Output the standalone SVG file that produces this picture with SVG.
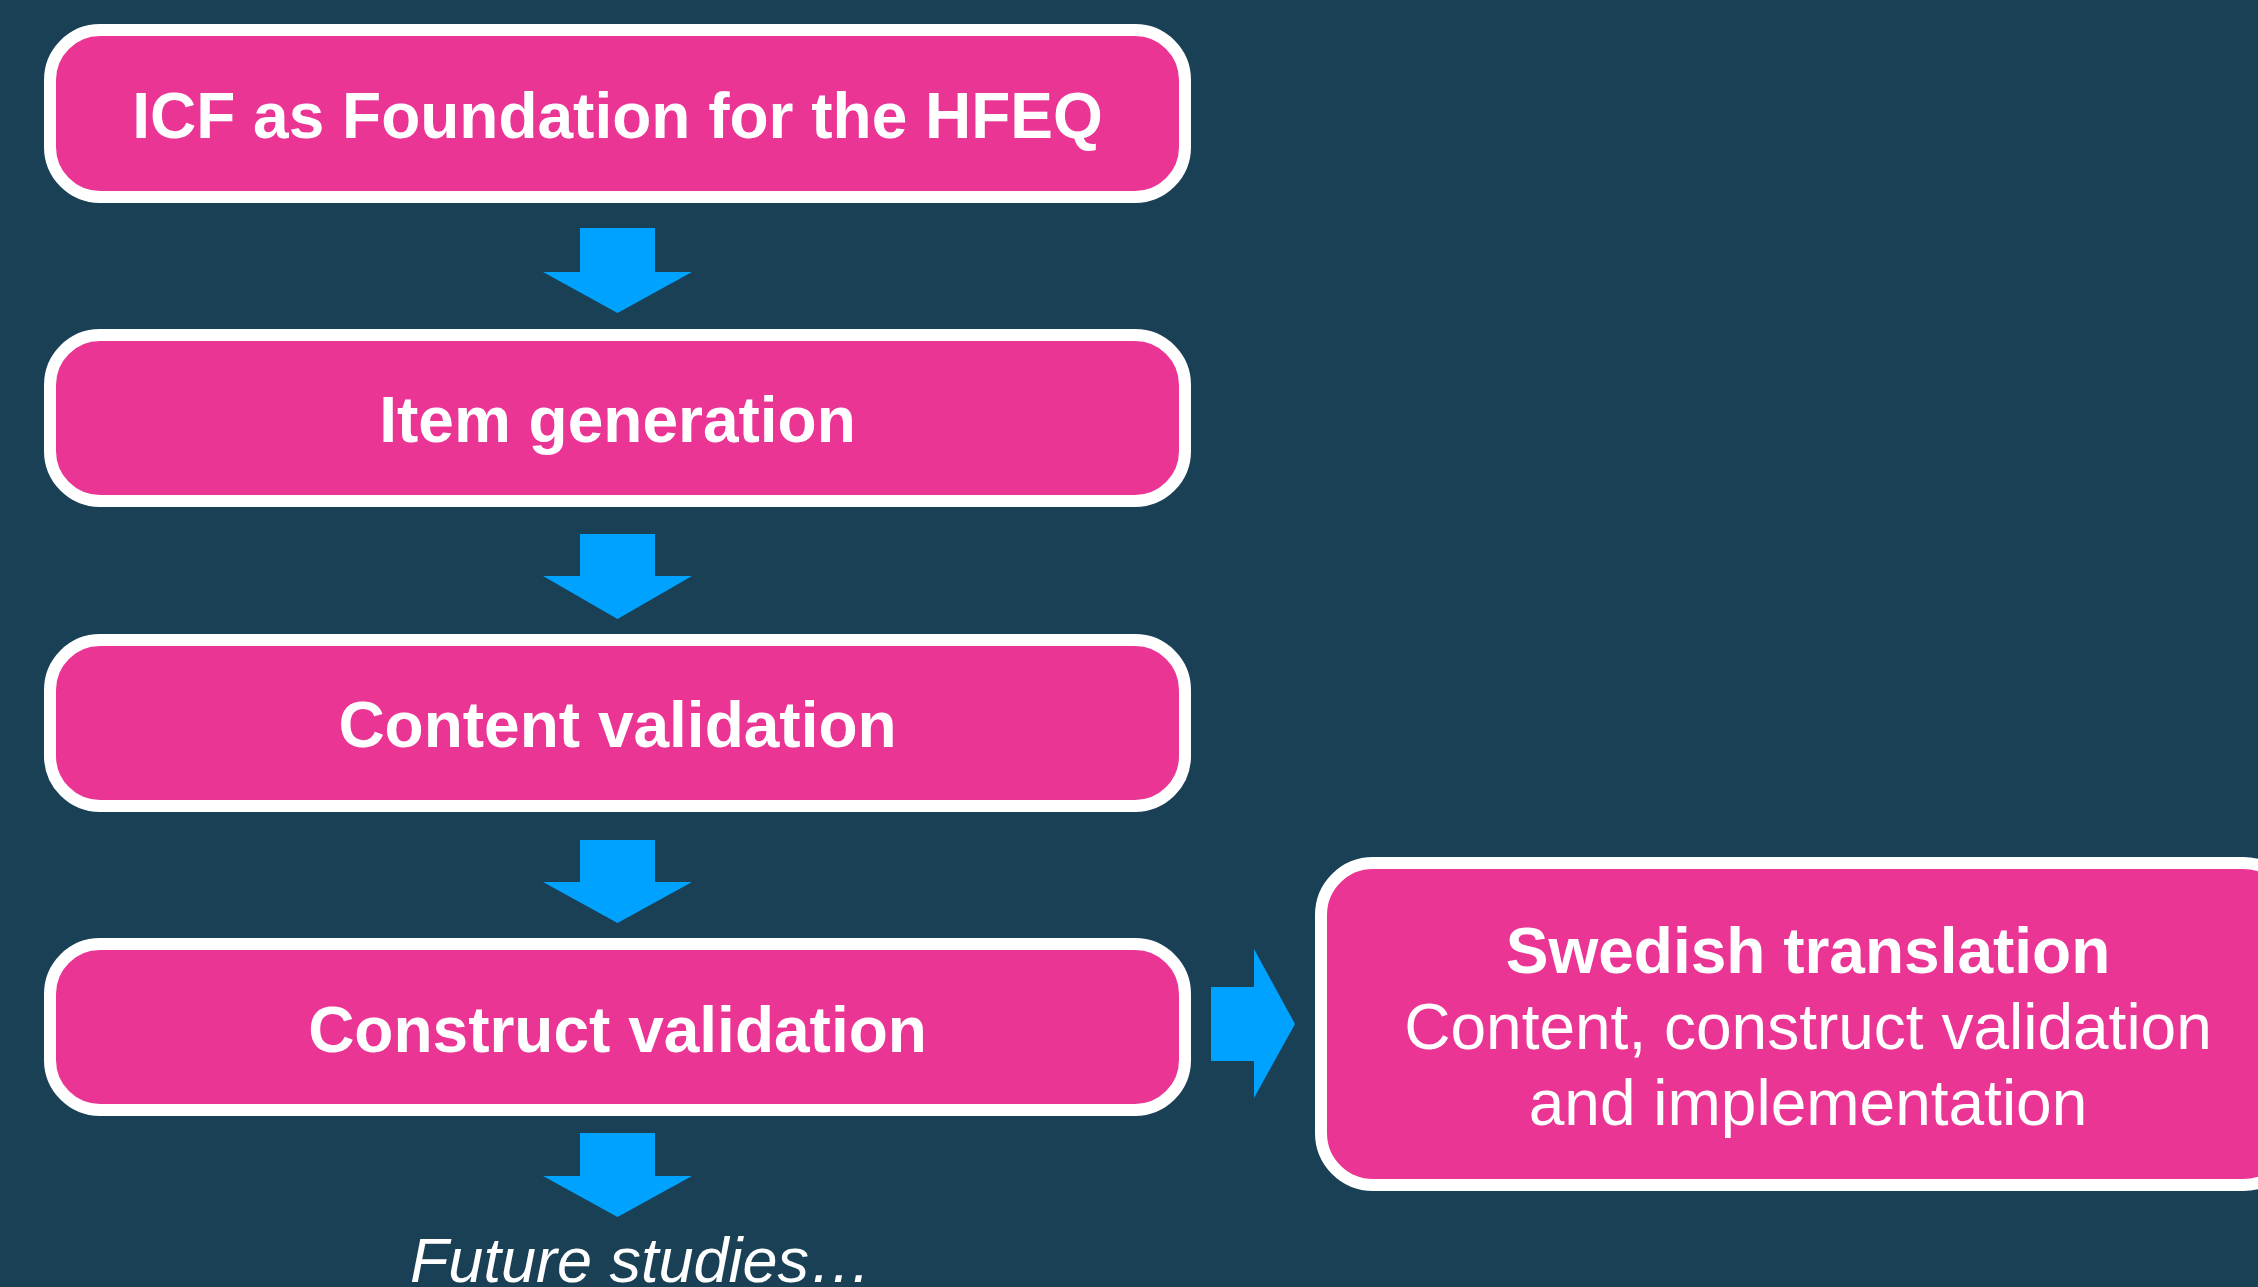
<svg xmlns="http://www.w3.org/2000/svg" width="2258" height="1287" viewBox="0 0 2258 1287">
<style>
.box{fill:#EB3595;stroke:#FFFFFF;stroke-width:12}
.t{font-family:"Liberation Sans",Arial,sans-serif;font-size:64px;fill:#FFFFFF;text-anchor:middle}
.b{font-weight:bold}
.arr{fill:#00A2FF}
</style>
<rect width="2258" height="1287" fill="#1A4056"/>
<g id="connectors">
<polygon class="arr" points="580,228 655,228 655,272 692,272 617.5,313 543,272 580,272"/>
<polygon class="arr" points="580,534 655,534 655,576 692,576 617.5,619 543,576 580,576"/>
<polygon class="arr" points="580,840 655,840 655,882 692,882 617.5,923 543,882 580,882"/>
<polygon class="arr" points="580,1133 655,1133 655,1176 692,1176 617.5,1217 543,1176 580,1176"/>
<polygon class="arr" points="1211,987 1254,987 1254,949 1295,1024 1254,1098 1254,1061 1211,1061"/>
</g>
<g id="n1">
<rect class="box" x="50" y="30" width="1135" height="167" rx="50" ry="50"/>
<text class="t b" x="617.5" y="138">ICF as Foundation for the HFEQ</text>
</g>
<g id="n2">
<rect class="box" x="50" y="335" width="1135" height="166" rx="50" ry="50"/>
<text class="t b" x="617.5" y="442">Item generation</text>
</g>
<g id="n3">
<rect class="box" x="50" y="640" width="1135" height="166" rx="50" ry="50"/>
<text class="t b" x="617.5" y="747">Content validation</text>
</g>
<g id="n4">
<rect class="box" x="50" y="944" width="1135" height="166" rx="50" ry="50"/>
<text class="t b" x="617.5" y="1052">Construct validation</text>
</g>
<g id="n5">
<rect class="box" x="1321" y="863" width="974" height="322" rx="52" ry="52"/>
<text class="t b" x="1808" y="973">Swedish translation</text>
<text class="t" x="1808" y="1049">Content, construct validation</text>
<text class="t" x="1808" y="1125">and implementation</text>
</g>
<g id="n6">
<text class="t" x="641" y="1282" style="font-style:italic;font-size:63px">Future studies…</text>
</g>
</svg>
